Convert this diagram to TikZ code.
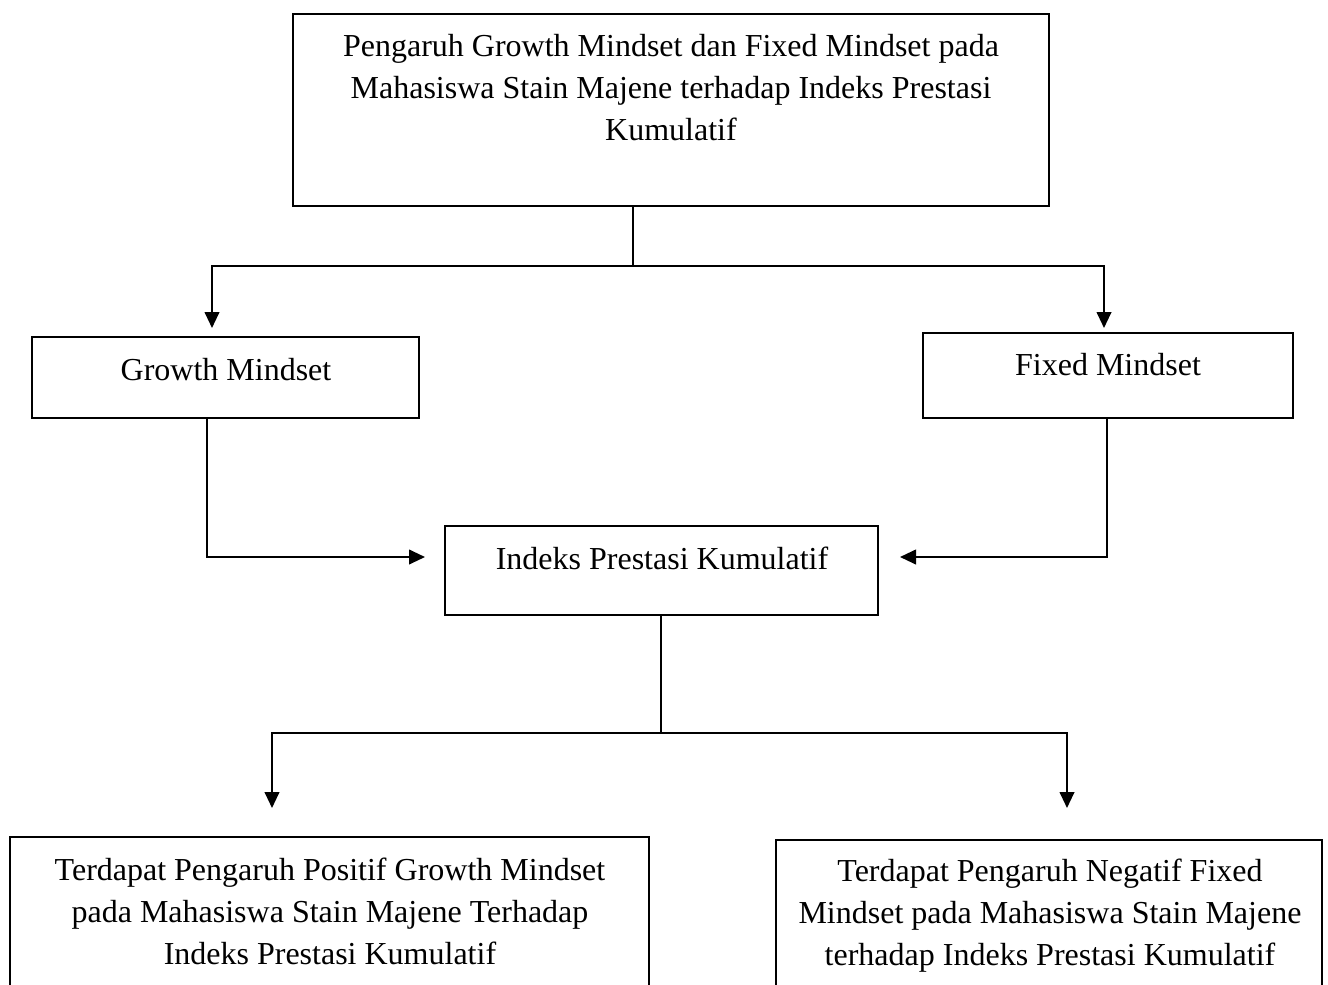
\documentclass[tikz,border=0pt]{standalone}
\usepackage{fontspec}
\setmainfont{Liberation Serif}
\usetikzlibrary{arrows.meta}
\begin{document}
\begin{tikzpicture}[x=0.75pt,y=-0.75pt,
  box/.style={draw=black,line width=1pt,inner sep=0pt,fill=none},
  txt/.style={align=center,inner sep=0pt,font=\fontsize{24}{31.5}\selectfont},
  conn/.style={line width=1.5pt},
  arr/.style={line width=1.5pt,-{Triangle[length=12pt,width=11pt]}}]
\fill[white] (0,0) rectangle (1328,985);
\useasboundingbox (0,0) rectangle (1328,985);
\clip (0,0) rectangle (1328,985);
% boxes
\node[box,minimum width=567pt,minimum height=144pt] (top) at (671,110) {};
\node[box,minimum width=290.25pt,minimum height=60.75pt] (g) at (225.5,377.5) {};
\node[box,minimum width=277.5pt,minimum height=63.75pt] (f) at (1108,375.5) {};
\node[box,minimum width=324.75pt,minimum height=66.75pt] (i) at (661.5,570.5) {};
\node[box,minimum width=479.25pt,minimum height=129.75pt] (bl) at (329.5,923.5) {};
\node[box,minimum width=409.5pt,minimum height=127.5pt] (br) at (1049,925) {};
% texts
\node[txt] (topt) at (671,88) {Pengaruh Growth Mindset dan Fixed Mindset pada\\Mahasiswa Stain Majene terhadap Indeks Prestasi\\Kumulatif};
\node[txt] (gt) at (226,370) {Growth Mindset};
\node[txt] (ft) at (1108,365) {Fixed Mindset};
\node[txt] (it) at (662,558) {Indeks Prestasi Kumulatif};
\node[txt] (blt) at (330,911) {Terdapat Pengaruh Positif Growth Mindset\\pada Mahasiswa Stain Majene Terhadap\\Indeks Prestasi Kumulatif};
\node[txt] (brt) at (1050,916) {Terdapat Pengaruh Negatif Fixed\\Mindset pada Mahasiswa Stain Majene\\terhadap Indeks Prestasi Kumulatif};
% connector points
\coordinate (j1) at (633,266);
\coordinate (ga) at (212,328);
\coordinate (fa) at (1104,328);
\coordinate (gx) at (207,0);
\coordinate (fx) at (1107,0);
\coordinate (ia) at (425,557);
\coordinate (ib) at (900,557);
\coordinate (j2) at (661,733);
\coordinate (bla) at (272,808);
\coordinate (bra) at (1067,808);
% connectors
\draw[conn] (top.south -| j1) -- (j1);
\draw[arr] (j1) -| (ga);
\draw[arr] (j1) -| (fa);
\draw[arr] (g.south -| gx) |- (ia);
\draw[arr] (f.south -| fx) |- (ib);
\draw[conn] (i.south -| j2) -- (j2);
\draw[arr] (j2) -| (bla);
\draw[arr] (j2) -| (bra);
\end{tikzpicture}
\end{document}
